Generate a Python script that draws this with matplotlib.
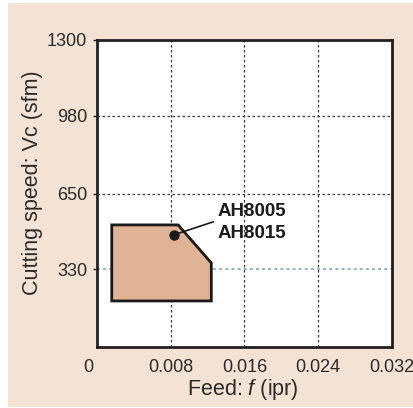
import matplotlib
matplotlib.use("Agg")
import matplotlib.pyplot as plt
from matplotlib.patches import Polygon, Rectangle
import matplotlib.transforms as mtransforms

# Data
feed_ticks = [0, 0.008, 0.016, 0.024, 0.032]
feed_labels = ["0", "0.008", "0.016", "0.024", "0.032"]
speed_ticks = [330, 650, 980, 1300]
speed_labels = ["330", "650", "980", "1300"]
region_feed = [0.0016, 0.0016, 0.0088, 0.0124, 0.0124]
region_speed = [195, 517, 517, 356, 195]
grade_label = "AH8005\nAH8015"
marker_point = (0.00835, 475)
label_anchor = (0.0126, 530)

plt.rcParams['font.family'] = ['Liberation Sans', 'DejaVu Sans']
plt.rcParams['mathtext.fontset'] = 'custom'
plt.rcParams['mathtext.rm'] = 'Liberation Sans'
plt.rcParams['mathtext.it'] = 'Liberation Sans:italic'

fig = plt.figure(figsize=(4.14, 4.08), dpi=100)
fig.patch.set_facecolor('white')
bg = Rectangle((8/414, 1/408), 1 - 8/414, 404/408,
               transform=fig.transFigure, facecolor='#f4e3d4',
               edgecolor='none', zorder=-10)
fig.patches.append(bg)

ax = fig.add_axes([97/414, 1 - 347/408, 295/414, 307/408])
ax.set_zorder(5)
ax.set_facecolor('white')
ax.set_xlim(0, 0.032)
ax.set_ylim(0, 1300)

# grid lines
for x in feed_ticks[1:-1]:
    ax.axvline(x, color='#3a3a3a', lw=0.9, ls=(0, (2, 2)), zorder=1)
for y in speed_ticks[:-1]:
    c = '#7f9fba' if y == 330 else '#3a3a3a'
    ax.axhline(y, color=c, lw=1.1 if y == 330 else 0.9, ls=(0, (2, 2)), zorder=1)

pts = list(zip(region_feed, region_speed))
ax.add_patch(Polygon(pts, closed=True, facecolor='#dfb393', edgecolor='#1a1a1a',
                     lw=2.0, zorder=3, joinstyle='miter'))

ax.plot([marker_point[0], label_anchor[0]], [marker_point[1], label_anchor[1]],
        color='#1a1a1a', lw=1.2, zorder=4)
ax.plot([marker_point[0]], [marker_point[1]], 'o', color='#1a1a1a', ms=6.5, zorder=5)
ax.text(0.0131, 528, grade_label, fontsize=13.5, fontweight='bold', ha='left',
        va='center', linespacing=1.35, color='#1a1a1a', zorder=6)

for s in ax.spines.values():
    s.set_linewidth(2.0)
    s.set_color('#231f20')

ax.set_xticks(feed_ticks)
ax.set_xticklabels(feed_labels)
ax.set_yticks(speed_ticks)
ax.set_yticklabels(speed_labels)
ax.tick_params(axis='x', length=0, pad=9, labelsize=13, labelcolor='#2a2a2a')
ax.tick_params(axis='y', length=3, width=1, pad=4, labelsize=13, labelcolor='#2a2a2a',
               color='#231f20')
ax.yaxis.get_major_ticks()[0].tick1line.set_color('#8aa6bd')

offset = mtransforms.ScaledTranslation(-9/100, 0, fig.dpi_scale_trans)
lbl0 = ax.get_xticklabels()[0]
lbl0.set_transform(lbl0.get_transform() + offset)

fig.text(243/414, 1 - 389/408, "Feed: $\\it{f}$ (ipr)", fontsize=15.5, ha='center',
         va='center', color='#2a2a2a', zorder=6)
fig.text(33/414, 1 - 183/408, "Cutting speed: Vc (sfm)", fontsize=15.5,
         rotation=90, ha='center', va='center', color='#2a2a2a', zorder=6)

fig.savefig('out.png', dpi=100)
